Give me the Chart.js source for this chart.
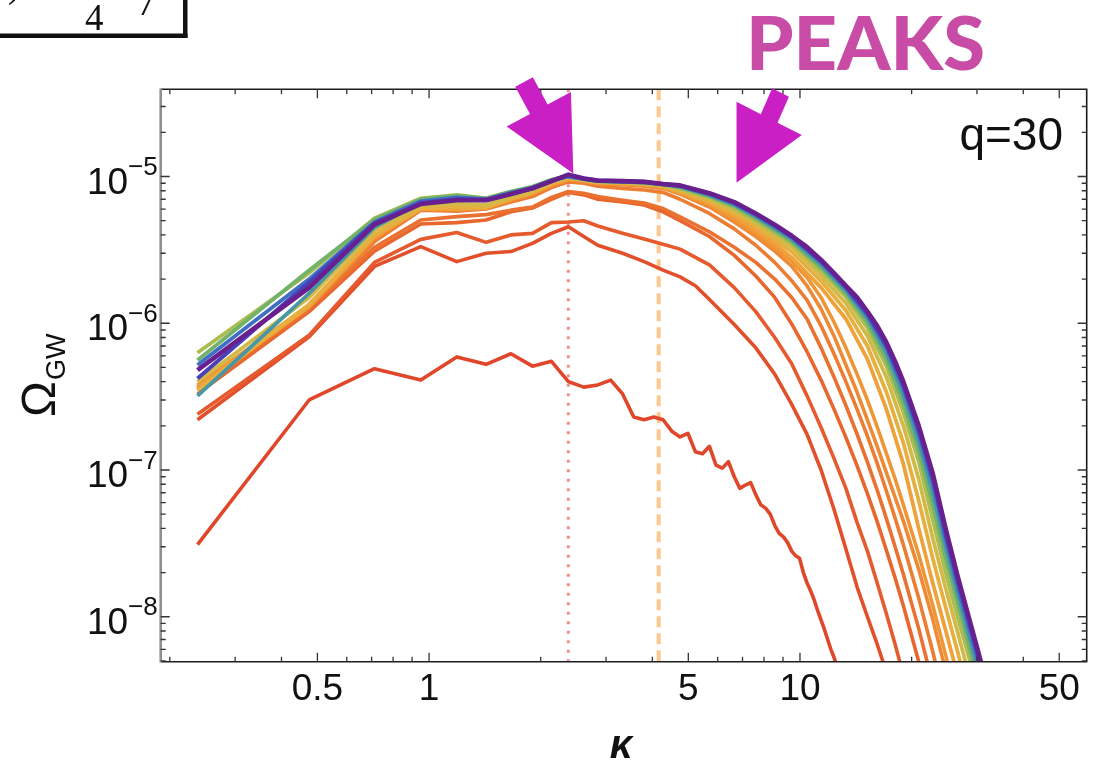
<!DOCTYPE html>
<html>
<head>
<meta charset="utf-8">
<script src="https://cdn.jsdelivr.net/npm/chart.js@4.4.1/dist/chart.umd.min.js"></script>
<style>
  html, body { margin: 0; padding: 0; background: #fff; }
  #chart { display: block; }
</style>
</head>
<body>
<canvas id="chart" width="1094" height="761"></canvas>
<script>
// frame range (kappa, Omega_GW)
const kMin = 0.189, kMax = 59.3;
const wMin = 4.94e-9, wMax = 3.93e-5;

const xMajor = [0.5, 1, 5, 10, 50];
const xMinor = [0.2, 0.3, 0.4, 0.6, 0.7, 0.8, 0.9, 2, 3, 4, 6, 7, 8, 9, 20, 30, 40];
const yMajor = [1e-5, 1e-6, 1e-7, 1e-8];
const yMinor = [5e-9, 6e-9, 7e-9, 8e-9, 9e-9,
  2e-8, 3e-8, 4e-8, 5e-8, 6e-8, 7e-8, 8e-8, 9e-8,
  2e-7, 3e-7, 4e-7, 5e-7, 6e-7, 7e-7, 8e-7, 9e-7,
  2e-6, 3e-6, 4e-6, 5e-6, 6e-6, 7e-6, 8e-6, 9e-6,
  2e-5, 3e-5];

const peakK = 2.374;  // dotted line
const cutK = 4.16;    // dashed line

// spectra, earliest (lowest) first: [kappa, Omega_GW]
const s1 = [[0.2375,3.1e-8],[0.475,3.0e-7],[0.7125,4.9e-7],[0.95,4.1e-7],[1.1875,5.9e-7],[1.425,5.25e-7],[1.6625,6.2e-7],[1.9,5.1e-7],[2.1375,5.5e-7],[2.375,4.0e-7],[2.6125,3.67e-7],[2.85,3.8e-7],[3.0875,4.1e-7],[3.325,3.3e-7],[3.5625,2.3e-7],[3.8,2.2e-7],[4.0375,2.3e-7],[4.275,2.2e-7],[4.5125,1.84e-7],[4.75,1.68e-7],[4.9875,1.78e-7],[5.225,1.33e-7],[5.4625,1.29e-7],[5.7,1.45e-7],[5.9375,1.08e-7],[6.175,1.03e-7],[6.4125,1.14e-7],[6.65,9.0e-8],[6.8875,7.5e-8],[7.125,7.9e-8],[7.3625,8.2e-8],[7.6,6.8e-8],[7.8375,5.8e-8],[8.075,5.5e-8],[8.3125,5.0e-8],[8.55,4.2e-8],[8.7875,3.7e-8],[9.025,3.5e-8],[9.2625,3.2e-8],[9.5,2.8e-8],[9.7375,2.6e-8],[9.975,2.5e-8],[10.2125,2.0e-8],[10.45,1.7e-8],[10.6875,1.5e-8],[10.925,1.3e-8],[11.1625,1.1e-8],[11.4,9.5e-9],[11.6375,8.2e-9],[11.875,7.0e-9],[12.1125,6.0e-9],[12.35,5.3e-9],[12.5875,4.6e-9]];
const s2 = [[0.2375,2.2e-7],[0.475,8.1e-7],[0.7125,2.44e-6],[0.95,3.33e-6],[1.1875,2.63e-6],[1.425,3.0e-6],[1.6625,3.08e-6],[1.9,3.5e-6],[2.1375,4.1e-6],[2.375,4.55e-6],[2.6125,3.9e-6],[2.85,3.4e-6],[3.325,3.0e-6],[3.8,2.63e-6],[4.275,2.3e-6],[4.75,2.07e-6],[5.225,1.8e-6],[5.7,1.45e-6],[6.65,9.8e-7],[7.6,6.8e-7],[8.55,4.5e-7],[9.5,2.8e-7],[10.45,1.75e-7],[11.4,1.0e-7],[12.35,5.4e-8],[13.3,2.9e-8],[14.25,1.6e-8],[15.2,1.0e-8],[16.15,6.5e-9],[17.1,4.2e-9]];
const s3 = [[0.2375,2.4e-7],[0.475,8.3e-7],[0.7125,2.6e-6],[0.95,3.73e-6],[1.1875,4.15e-6],[1.425,3.56e-6],[1.6625,4.0e-6],[1.9,4.1e-6],[2.1375,4.85e-6],[2.375,4.9e-6],[2.6125,5.0e-6],[2.85,4.6e-6],[3.325,4.1e-6],[3.8,3.75e-6],[4.275,3.45e-6],[4.75,3.2e-6],[5.7,2.5e-6],[6.65,1.75e-6],[7.6,1.2e-6],[8.55,8.0e-7],[9.5,5.3e-7],[10.45,3.2e-7],[11.4,1.95e-7],[12.35,1.2e-7],[13.3,7.5e-8],[14.25,4.4e-8],[15.2,2.8e-8],[16.15,1.7e-8],[17.1,1.05e-8],[18.05,6.5e-9],[19.0,4.0e-9]];
const s4 = [[0.2375,3.3e-7],[0.475,1.2e-6],[0.7125,3.1e-6],[0.95,4.75e-6],[1.1875,4.85e-6],[1.425,5.05e-6],[1.6625,5.75e-6],[1.9,6.1e-6],[2.1375,7.0e-6],[2.375,7.8e-6],[2.6125,7.5e-6],[2.85,7.0e-6],[3.325,6.7e-6],[3.8,6.4e-6],[4.275,5.75e-6],[4.75,5.0e-6],[5.7,3.9e-6],[6.65,2.9e-6],[7.6,2.1e-6],[8.55,1.5e-6],[9.5,9.9e-7],[10.45,6.4e-7],[11.4,4.1e-7],[12.35,2.6e-7],[13.3,1.67e-7],[14.25,1.07e-7],[15.2,6.9e-8],[16.15,4.45e-8],[17.1,2.84e-8],[18.05,1.84e-8],[19.0,1.19e-8],[20.9,4.95e-9],[22.8,2.0e-9]];
const s5 = [[0.2375,3.5e-7],[0.475,1.25e-6],[0.7125,3.3e-6],[0.95,5.05e-6],[1.1875,5.33e-6],[1.425,5.5e-6],[1.6625,5.9e-6],[1.9,6.2e-6],[2.1375,7.2e-6],[2.375,7.9e-6],[2.6125,7.7e-6],[2.85,7.3e-6],[3.325,6.9e-6],[3.8,6.6e-6],[4.275,6.05e-6],[4.75,5.3e-6],[5.7,4.2e-6],[6.65,3.3e-6],[7.6,2.6e-6],[8.55,2.0e-6],[9.5,1.5e-6],[10.45,1.07e-6],[11.4,6.8e-7],[12.35,4.3e-7],[13.3,2.75e-7],[14.25,1.76e-7],[15.2,1.13e-7],[16.15,7.3e-8],[17.1,4.66e-8],[18.05,3.0e-8],[19.0,1.95e-8],[20.9,8.3e-9],[22.8,3.5e-9]];
const s6 = [[0.2375,3.6e-7],[0.475,1.28e-6],[0.7125,3.6e-6],[0.95,5.9e-6],[1.1875,5.8e-6],[1.425,6.0e-6],[1.6625,6.7e-6],[1.9,7.3e-6],[2.1375,8.4e-6],[2.375,9.2e-6],[2.6125,9.0e-6],[2.85,8.6e-6],[3.325,8.3e-6],[3.8,8.1e-6],[4.275,7.8e-6],[4.75,7.0e-6],[5.7,5.6e-6],[6.65,4.4e-6],[7.6,3.4e-6],[8.55,2.6e-6],[9.5,1.95e-6],[10.45,1.44e-6],[11.4,9.6e-7],[12.35,6.2e-7],[13.3,4.0e-7],[14.25,2.6e-7],[15.2,1.7e-7],[16.15,1.11e-7],[17.1,7.2e-8],[18.05,4.7e-8],[19.0,3.1e-8],[20.9,1.34e-8],[22.8,5.8e-9],[24.7,2.5e-9]];
const s7 = [[0.2375,3.7e-7],[0.475,1.3e-6],[0.7125,3.75e-6],[0.95,6.0e-6],[1.1875,5.9e-6],[1.425,6.1e-6],[1.6625,6.9e-6],[1.9,7.6e-6],[2.1375,8.7e-6],[2.375,9.5e-6],[2.6125,9.2e-6],[2.85,8.9e-6],[3.325,8.8e-6],[3.8,8.6e-6],[4.275,8.3e-6],[4.75,7.6e-6],[5.7,6.2e-6],[6.65,4.9e-6],[7.6,3.9e-6],[8.55,3.1e-6],[9.5,2.45e-6],[10.45,1.8e-6],[11.4,1.25e-6],[12.35,8.2e-7],[13.3,5.2e-7],[14.25,3.4e-7],[15.2,2.2e-7],[16.15,1.45e-7],[17.1,9.6e-8],[18.05,6.5e-8],[19.0,4.5e-8],[20.9,2.1e-8],[22.8,9.6e-9],[24.7,4.3e-9]];
const s8 = [[0.2375,3.8e-7],[0.475,1.33e-6],[0.7125,3.85e-6],[0.95,6.05e-6],[1.1875,6.0e-6],[1.425,6.1e-6],[1.6625,7.0e-6],[1.9,7.7e-6],[2.1375,8.8e-6],[2.375,9.6e-6],[2.6125,9.3e-6],[2.85,9.0e-6],[3.325,8.9e-6],[3.8,8.8e-6],[4.275,8.5e-6],[4.75,7.8e-6],[5.7,6.4e-6],[6.65,5.1e-6],[7.6,4.1e-6],[8.55,3.3e-6],[9.5,2.65e-6],[10.45,2.05e-6],[11.4,1.5e-6],[12.35,1.02e-6],[13.3,6.8e-7],[14.25,4.5e-7],[15.2,3.0e-7],[16.15,1.97e-7],[17.1,1.3e-7],[18.05,8.7e-8],[19.0,5.8e-8],[20.9,2.66e-8],[22.8,1.2e-8],[24.7,5.5e-9],[26.6,2.5e-9]];
const b1 = [[0.2375,3.6e-7],[0.475,1.3e-6],[0.7125,3.9e-6],[0.95,6.0e-6],[1.1875,6.0e-6],[1.425,6.1e-6],[1.6625,7.0e-6],[1.9,7.7e-6],[2.1375,8.8e-6],[2.375,9.6e-6],[2.6125,9.4e-6],[2.85,9.1e-6],[3.325,9.0e-6],[3.8,8.8e-6],[4.275,8.5e-6],[4.75,7.8e-6],[5.7,6.6e-6],[6.65,5.4e-6],[7.6,4.35e-6],[8.55,3.5e-6],[9.5,2.8e-6],[11.4,1.75e-6],[13.3,1.07e-6],[15.2,5.7e-7],[17.1,2.6e-7],[19.0,1.1e-7],[20.9,4.0e-8],[22.8,1.7e-8],[24.7,8.1e-9],[26.6,4.0e-9]];
const b2 = [[0.2375,3.5e-7],[0.475,1.35e-6],[0.7125,4.0e-6],[0.95,6.1e-6],[1.1875,6.2e-6],[1.425,6.2e-6],[1.6625,7.1e-6],[1.9,7.8e-6],[2.1375,9.0e-6],[2.375,9.8e-6],[2.6125,9.45e-6],[2.85,9.15e-6],[3.325,9.05e-6],[3.8,8.9e-6],[4.275,8.6e-6],[4.75,7.98e-6],[5.7,6.8e-6],[6.65,5.65e-6],[7.6,4.6e-6],[8.55,3.73e-6],[9.5,3.06e-6],[11.4,1.94e-6],[13.3,1.22e-6],[15.2,7.0e-7],[17.1,3.4e-7],[19.0,1.53e-7],[20.9,6.2e-8],[22.8,2.5e-8],[24.7,1.16e-8],[26.6,5.8e-9],[28.5,2.9e-9]];
const b3 = [[0.2375,4.0e-7],[0.475,1.5e-6],[0.7125,4.3e-6],[0.95,6.3e-6],[1.1875,6.5e-6],[1.425,6.4e-6],[1.6625,7.3e-6],[1.9,8.0e-6],[2.1375,9.2e-6],[2.375,9.9e-6],[2.6125,9.5e-6],[2.85,9.2e-6],[3.325,9.1e-6],[3.8,9.0e-6],[4.275,8.7e-6],[4.75,8.15e-6],[5.7,7.0e-6],[6.65,5.9e-6],[7.6,4.8e-6],[8.55,3.95e-6],[9.5,3.3e-6],[11.4,2.11e-6],[13.3,1.37e-6],[15.2,8.2e-7],[17.1,4.3e-7],[19.0,2.0e-7],[20.9,8.7e-8],[22.8,3.44e-8],[24.7,1.57e-8],[26.6,7.9e-9],[28.5,4.1e-9]];
const b4 = [[0.2375,6.3e-7],[0.475,2.2e-6],[0.7125,5.2e-6],[0.95,7.1e-6],[1.1875,7.5e-6],[1.425,7.1e-6],[1.6625,7.9e-6],[1.9,8.5e-6],[2.1375,9.5e-6],[2.375,1.01e-5],[2.6125,9.6e-6],[2.85,9.3e-6],[3.325,9.2e-6],[3.8,9.1e-6],[4.275,8.8e-6],[4.75,8.3e-6],[5.7,7.2e-6],[6.65,6.1e-6],[7.6,5.0e-6],[8.55,4.15e-6],[9.5,3.5e-6],[11.4,2.28e-6],[13.3,1.51e-6],[15.2,9.3e-7],[17.1,5.1e-7],[19.0,2.47e-7],[20.9,1.14e-7],[22.8,4.6e-8],[24.7,2.0e-8],[26.6,1.0e-8],[28.5,5.4e-9],[30.4,2.8e-9]];
const b5 = [[0.2375,5.6e-7],[0.475,2.3e-6],[0.7125,5.1e-6],[0.95,7.0e-6],[1.1875,7.4e-6],[1.425,7.1e-6],[1.6625,7.9e-6],[1.9,8.5e-6],[2.1375,9.5e-6],[2.375,1.01e-5],[2.6125,9.6e-6],[2.85,9.3e-6],[3.325,9.2e-6],[3.8,9.1e-6],[4.275,8.8e-6],[4.75,8.43e-6],[5.7,7.35e-6],[6.65,6.3e-6],[7.6,5.2e-6],[8.55,4.3e-6],[9.5,3.6e-6],[11.4,2.4e-6],[13.3,1.6e-6],[15.2,1.01e-6],[17.1,5.7e-7],[19.0,2.86e-7],[20.9,1.35e-7],[22.8,5.8e-8],[24.7,2.5e-8],[26.6,1.24e-8],[28.5,6.5e-9],[30.4,3.5e-9]];
const b6 = [[0.2375,3.2e-7],[0.475,1.6e-6],[0.7125,4.5e-6],[0.95,6.7e-6],[1.1875,7.1e-6],[1.425,7.0e-6],[1.6625,7.8e-6],[1.9,8.4e-6],[2.1375,9.4e-6],[2.375,1.0e-5],[2.6125,9.6e-6],[2.85,9.3e-6],[3.325,9.2e-6],[3.8,9.1e-6],[4.275,8.85e-6],[4.75,8.53e-6],[5.7,7.47e-6],[6.65,6.43e-6],[7.6,5.34e-6],[8.55,4.45e-6],[9.5,3.75e-6],[11.4,2.5e-6],[13.3,1.67e-6],[15.2,1.08e-6],[17.1,6.3e-7],[19.0,3.25e-7],[20.9,1.56e-7],[22.8,7.0e-8],[24.7,3.0e-8],[26.6,1.45e-8],[28.5,7.6e-9],[30.4,4.1e-9]];
const b7 = [[0.2375,5.2e-7],[0.475,2.0e-6],[0.7125,4.9e-6],[0.95,6.8e-6],[1.1875,7.2e-6],[1.425,7.0e-6],[1.6625,7.7e-6],[1.9,8.4e-6],[2.1375,9.4e-6],[2.375,1.0e-5],[2.6125,9.65e-6],[2.85,9.35e-6],[3.325,9.25e-6],[3.8,9.15e-6],[4.275,8.85e-6],[4.75,8.6e-6],[5.7,7.57e-6],[6.65,6.55e-6],[7.6,5.46e-6],[8.55,4.56e-6],[9.5,3.85e-6],[11.4,2.6e-6],[13.3,1.73e-6],[15.2,1.13e-6],[17.1,6.8e-7],[19.0,3.6e-7],[20.9,1.75e-7],[22.8,8.1e-8],[24.7,3.4e-8],[26.6,1.64e-8],[28.5,8.6e-9],[30.4,4.7e-9],[31.0,3.9e-9]];
const b8 = [[0.2375,4.2e-7],[0.475,1.9e-6],[0.7125,4.8e-6],[0.95,6.6e-6],[1.1875,7.0e-6],[1.425,6.9e-6],[1.6625,7.6e-6],[1.9,8.3e-6],[2.1375,9.3e-6],[2.375,1.02e-5],[2.6125,9.7e-6],[2.85,9.4e-6],[3.325,9.3e-6],[3.8,9.2e-6],[4.275,8.9e-6],[4.75,8.65e-6],[5.7,7.65e-6],[6.65,6.63e-6],[7.6,5.54e-6],[8.55,4.65e-6],[9.5,3.9e-6],[11.4,2.65e-6],[13.3,1.77e-6],[15.2,1.17e-6],[17.1,7.1e-7],[19.0,3.8e-7],[20.9,1.88e-7],[22.8,8.8e-8],[24.7,3.7e-8],[26.6,1.78e-8],[28.5,9.4e-9],[30.4,5.1e-9],[31.0,4.3e-9]];
const last = [[0.2375,4.8e-7],[0.475,1.75e-6],[0.7125,4.7e-6],[0.95,6.5e-6],[1.1875,6.9e-6],[1.425,6.9e-6],[1.6625,7.6e-6],[1.9,8.3e-6],[2.1375,9.3e-6],[2.375,1.03e-5],[2.6125,9.7e-6],[2.85,9.4e-6],[3.325,9.3e-6],[3.8,9.2e-6],[4.275,8.9e-6],[4.75,8.7e-6],[5.7,7.7e-6],[6.65,6.7e-6],[7.6,5.6e-6],[8.55,4.7e-6],[9.5,3.95e-6],[10.45,3.3e-6],[11.4,2.7e-6],[12.35,2.2e-6],[13.3,1.8e-6],[14.25,1.5e-6],[15.2,1.2e-6],[16.15,9.6e-7],[17.1,7.4e-7],[18.05,5.5e-7],[19.0,4.0e-7],[20.9,2.0e-7],[22.8,9.5e-8],[24.7,4.0e-8],[26.6,1.9e-8],[28.5,1.0e-8],[30.4,5.5e-9],[31.0,4.5e-9]];

const series = [s1, s2, s3, s4, s5, s6, s7, s8, b1, b2, b3, b4, b5, b6, b7, b8, last];
const lineColors = ['#E0472A', '#E2502B', '#E55B2D', '#E8672E', '#EA7130', '#EC7D32', '#EE8934', '#EF9536',
  '#F0A23A', '#E6AF3F', '#D3B945', '#ABBD51', '#72B26A', '#4798A6', '#3F6FC5', '#4A40B8', '#69208F'];
const lineWidths = [3.6, 3.6, 3.6, 3.6, 3.6, 3.6, 3.6, 3.6, 3.8, 3.8, 3.8, 3.8, 3.8, 3.8, 3.8, 4.0, 4.6];

// arrow tips in data units, outlines as pixel offsets from the tip
const arrowTips = [[2.449, 1.05e-5], [6.745, 9.07e-6]];
const arrowShapes = [
  [[-2.4,-81.4],[-25.75,-68.85],[-40.5,-96.15],[-58.1,-86.65],[-43.35,-59.35],[-66.7,-46.8]],
  [[65.3,-47.7],[41,-60.1],[52.4,-85.9],[35.6,-94.4],[24.3,-68.6],[0,-81]]
];

const sans = '"Liberation Sans", Arial, Helvetica, sans-serif';

const datasets = series.map((pts, i) => ({
  data: pts.map(p => ({ x: p[0], y: p[1] })),
  borderColor: lineColors[i],
  borderWidth: lineWidths[i],
  borderJoinStyle: 'round',
  pointRadius: 0,
  tension: 0,
  fill: false,
  clip: 0,
  order: series.length - i
}));

datasets.push({
  data: [{ x: peakK, y: wMax }, { x: peakK, y: wMin }],
  borderColor: '#F48E8E', borderWidth: 3, borderDash: [3, 6.5],
  pointRadius: 0, fill: false, clip: 0, order: 100
});
datasets.push({
  data: [{ x: cutK, y: wMax }, { x: cutK, y: wMin }],
  borderColor: '#FFC78E', borderWidth: 4, borderDash: [11, 6],
  pointRadius: 0, fill: false, clip: 0, order: 99
});

const decor = {
  id: 'decor',
  afterDraw(chart) {
    const ctx = chart.ctx, a = chart.chartArea;
    const xs = chart.scales.x, ys = chart.scales.y;
    ctx.save();

    // frame
    ctx.strokeStyle = '#1c1c1c';
    ctx.lineWidth = 1.6;
    ctx.beginPath();
    ctx.moveTo(a.left, a.top);
    ctx.lineTo(a.right, a.top);
    ctx.lineTo(a.right, a.bottom);
    ctx.lineTo(a.left, a.bottom);
    ctx.stroke();
    ctx.strokeStyle = '#8f8f8f';
    ctx.lineWidth = 2.6;
    ctx.beginPath();
    ctx.moveTo(a.left, a.top - 0.8);
    ctx.lineTo(a.left, a.bottom + 0.8);
    ctx.stroke();

    // inward ticks on all four sides
    ctx.strokeStyle = '#333';
    ctx.lineWidth = 1.3;
    ctx.beginPath();
    const xt = (v, len) => {
      const p = xs.getPixelForValue(v);
      ctx.moveTo(p, a.bottom); ctx.lineTo(p, a.bottom - len);
      ctx.moveTo(p, a.top); ctx.lineTo(p, a.top + len);
    };
    const yt = (v, len) => {
      const p = ys.getPixelForValue(v);
      ctx.moveTo(a.left, p); ctx.lineTo(a.left + len, p);
      ctx.moveTo(a.right, p); ctx.lineTo(a.right - len, p);
    };
    xMajor.forEach(v => xt(v, 9));
    xMinor.forEach(v => xt(v, 5));
    yMajor.forEach(v => yt(v, 9));
    yMinor.forEach(v => yt(v, 5));
    ctx.stroke();

    // tick labels
    ctx.fillStyle = '#111';
    ctx.textBaseline = 'alphabetic';
    ctx.textAlign = 'center';
    ctx.font = '37px ' + sans;
    xMajor.forEach(v => ctx.fillText(String(v), xs.getPixelForValue(v), 700));

    ctx.textAlign = 'left';
    yMajor.forEach(v => {
      const p = ys.getPixelForValue(v);
      const sup = '\u2212' + Math.abs(Math.round(Math.log10(v)));
      ctx.font = '26px ' + sans;
      const ws = ctx.measureText(sup).width;
      ctx.font = '37px ' + sans;
      const wm = ctx.measureText('10').width;
      const right = a.left - 3;
      ctx.fillText('10', right - ws - wm, p + 17);
      ctx.font = '26px ' + sans;
      ctx.fillText(sup, right - ws, p - 1.5);
    });

    // axis titles
    ctx.save();
    ctx.translate(55, 417);
    ctx.rotate(-Math.PI / 2);
    ctx.font = '48px ' + sans;
    ctx.fillText('\u03A9', 0, 0);
    const wo = ctx.measureText('\u03A9').width;
    ctx.font = '27px ' + sans;
    ctx.fillText('GW', wo + 1, 10);
    ctx.restore();

    ctx.textAlign = 'center';
    ctx.font = 'italic bold 40px ' + sans;
    ctx.fillText('\u03BA', 621, 758);

    ctx.textAlign = 'right';
    ctx.font = '46px ' + sans;
    ctx.fillText('q=30', 1063, 150);

    // arrows
    ctx.fillStyle = '#CB1FC6';
    arrowTips.forEach((t, i) => {
      const px = xs.getPixelForValue(t[0]), py = ys.getPixelForValue(t[1]);
      ctx.beginPath();
      ctx.moveTo(px, py);
      arrowShapes[i].forEach(d => ctx.lineTo(px + d[0], py + d[1]));
      ctx.closePath();
      ctx.fill();
    });

    // PEAKS heading
    ctx.textAlign = 'left';
    ctx.fillStyle = '#C84BA6';
    ctx.font = '900 74px Lato, ' + sans;
    const wp = ctx.measureText('PEAKS').width;
    ctx.save();
    ctx.translate(746, 70);
    ctx.scale(239 / wp, 1);
    ctx.fillText('PEAKS', 0, 0);
    ctx.restore();

    // cut-off box at top left
    ctx.fillStyle = '#111';
    ctx.fillRect(0, 33.5, 187.5, 4.5);
    ctx.fillRect(183, 0, 4.5, 38);
    ctx.font = '37px "Liberation Serif", "Times New Roman", serif';
    ctx.fillText('4', 85, 30);
    ctx.fillText(')', 8, -3);
    ctx.fillText('7', 137, 15);

    ctx.restore();
  }
};

new Chart(document.getElementById('chart'), {
  type: 'line',
  data: { datasets: datasets },
  options: {
    responsive: false,
    devicePixelRatio: 1,
    animation: false,
    layout: { autoPadding: false, padding: { left: 160.7, right: 7.3, top: 89.3, bottom: 99.3 } },
    plugins: { legend: { display: false }, tooltip: { enabled: false } },
    scales: {
      x: { type: 'logarithmic', display: false, min: kMin, max: kMax },
      y: { type: 'logarithmic', display: false, min: wMin, max: wMax }
    }
  },
  plugins: [decor]
});
</script>
</body>
</html>
